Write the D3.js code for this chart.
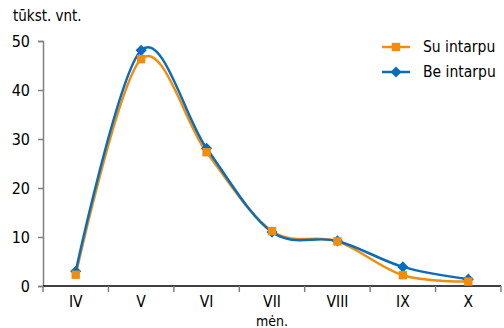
<!DOCTYPE html>
<html>
<head>
<meta charset="utf-8">
<script src="https://cdn.jsdelivr.net/npm/d3@7"></script>
<style>
  body { margin: 0; background: #fff; }
  svg { display: block; }
  text { font-family: "DejaVu Sans Condensed", "Liberation Sans Narrow", sans-serif; font-size: 15px; fill: #000; }
</style>
</head>
<body>
<svg id="chart" width="504" height="328"></svg>
<script>
// Months (Roman numerals) and monthly values, thousands of units
const months = ["IV", "V", "VI", "VII", "VIII", "IX", "X"];
const suIntarpu = [2.3, 46.3, 27.3, 11.2, 9.1, 2.2, 0.9];
const beIntarpu = [3.0, 48.1, 28.1, 11.0, 9.2, 3.9, 1.4];
const yTicks = [0, 10, 20, 30, 40, 50];
const seriesNames = ["Su intarpu", "Be intarpu"];
const seriesColors = ["#F28C0F", "#0B6DB8"];

const svg = d3.select("#chart");
const plotLeft = 43, plotRight = 501, plotTop = 41, plotBottom = 286;

const x = d3.scaleBand().domain(months).range([plotLeft, plotRight]);
const y = d3.scaleLinear().domain([0, 50]).range([plotBottom, plotTop]);

// Y axis (gray line, ticks pointing left)
const yAxis = svg.append("g").attr("transform", `translate(${plotLeft},0)`)
  .call(d3.axisLeft(y).tickValues(yTicks).tickSize(5).tickPadding(8));
yAxis.select(".domain").attr("stroke", "#808080").attr("stroke-width", 1.5);
yAxis.selectAll(".tick line").attr("stroke", "#808080").attr("stroke-width", 1.5);
yAxis.selectAll("text").style("font-size", "16px")
  .style("font-family", "'DejaVu Sans Condensed', sans-serif");

// X axis (black line, ticks at band boundaries)
const xAxisG = svg.append("g").attr("transform", `translate(0,${plotBottom})`);
xAxisG.append("line").attr("x1", plotLeft).attr("x2", plotRight).attr("y1", 0).attr("y2", 0)
  .attr("stroke", "#000").attr("stroke-width", 1.5);
const boundaries = months.map(m => x(m)).concat([x(months[months.length - 1]) + x.bandwidth()]);
xAxisG.selectAll("line.tk").data(boundaries).enter().append("line")
  .attr("class", "tk").attr("x1", d => d).attr("x2", d => d).attr("y1", 0).attr("y2", 6)
  .attr("stroke", "#808080").attr("stroke-width", 1.5);
xAxisG.selectAll("text.lbl").data(months).enter().append("text")
  .attr("class", "lbl")
  .attr("x", d => x(d) + x.bandwidth() / 2).attr("y", 20.5)
  .attr("text-anchor", "middle").style("font-size", "15.5px").text(d => d);

// Axis titles
svg.append("text").attr("x", 13).attr("y", 21).style("font-size", "15px").text("tūkst. vnt.");
svg.append("text").attr("x", x("VII") + x.bandwidth() / 2).attr("y", 325.5)
  .attr("text-anchor", "middle").style("font-size", "14px").text("mėn.");

const cx = m => x(m) + x.bandwidth() / 2;
const line = d3.line().x((d, i) => cx(months[i])).y(d => y(d)).curve(d3.curveCardinal.tension(0));

const series = [suIntarpu, beIntarpu];

// Lines
series.forEach((vals, k) => {
  svg.append("path").datum(vals).attr("d", line)
    .attr("fill", "none").attr("stroke", seriesColors[k]).attr("stroke-width", 2.5)
    .attr("stroke-linejoin", "round");
});

// Markers: squares for first series, diamonds for second
const squareSym = d3.symbol().type(d3.symbolSquare).size(70);
const diamondSym = d3.symbol().type(d3.symbolSquare).size(62);
function drawMarker(g, k, px, py) {
  if (k === 0) {
    g.append("path").attr("d", squareSym()).attr("transform", `translate(${px},${py})`)
      .attr("fill", seriesColors[0]);
  } else {
    g.append("path").attr("d", diamondSym()).attr("transform", `translate(${px},${py}) rotate(45)`)
      .attr("fill", seriesColors[1]);
  }
}
const markers = svg.append("g");
[1, 0].forEach(k => {
  series[k].forEach((v, i) => drawMarker(markers, k, cx(months[i]), y(v)));
});

// Legend
const legend = svg.append("g");
seriesNames.forEach((name, k) => {
  const ly = 47 + k * 25;
  legend.append("line").attr("x1", 382).attr("x2", 410).attr("y1", ly).attr("y2", ly)
    .attr("stroke", seriesColors[k]).attr("stroke-width", 2.5);
  drawMarker(legend, k, 396, ly);
  legend.append("text").attr("x", 423).attr("y", ly + 5).style("font-size", "15.5px").text(name);
});
</script>
</body>
</html>
